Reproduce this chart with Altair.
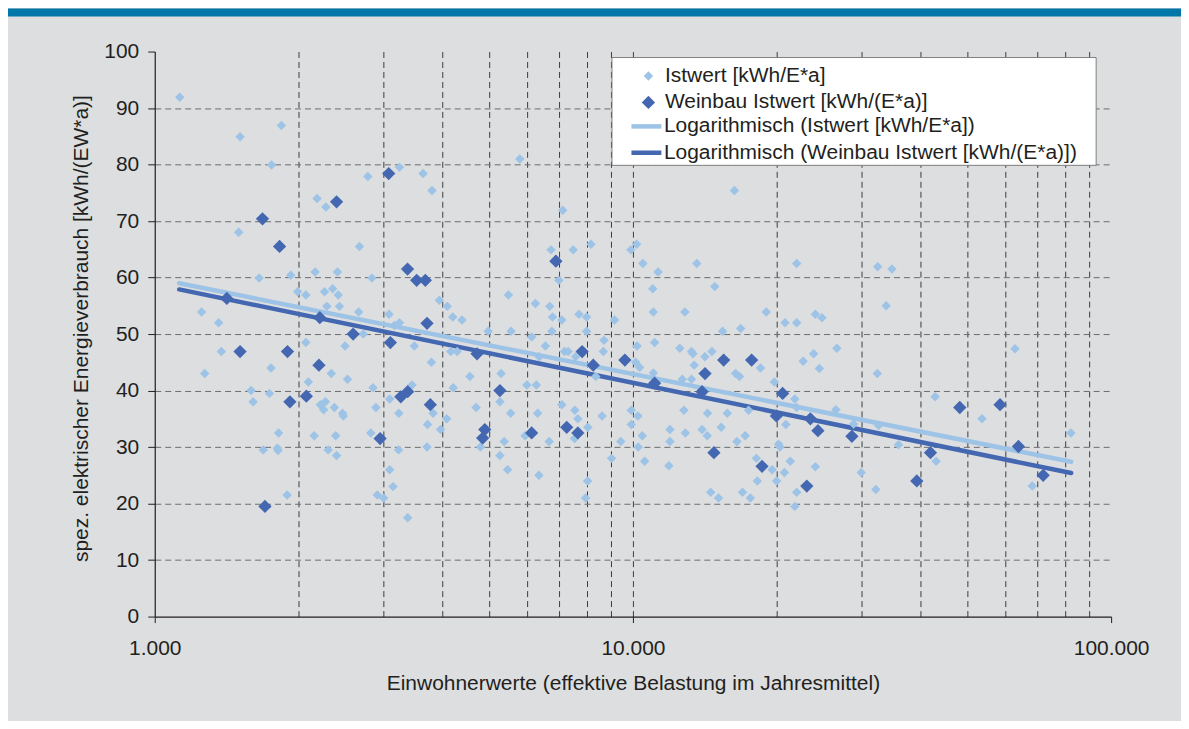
import altair as alt
import pandas as pd

# ---------------- data ----------------
light_ew = [
    1128, 1508, 1840, 1755, 3250, 2790, 3640, 3800, 2185, 2280,
    1498, 2679, 1653, 1925, 2165, 2410, 2845, 1990, 2070, 2265,
    2355, 2420, 2290, 2434, 1253, 1360, 2670, 3090, 3250, 3170,
    3936, 4090, 4200, 4390, 2730, 2070, 1378, 2500, 3490, 3790,
    4160, 4290, 1272, 1750, 2340, 2530, 2095, 2860, 3450, 4560,
    1590, 1737, 1606, 2220, 2275, 2255, 2375, 2470, 2480, 3100,
    2900, 3240, 3820, 4080, 3720, 3960, 4210, 4700, 1815, 2155,
    2390, 2830, 1686, 1805, 1810, 2305, 2400, 3235, 3710, 3100,
    3150, 2920, 3010, 1892, 3380, 5800, 7130, 16300, 6740, 7500,
    8170, 9900, 10180, 10490, 11290, 13600, 7000, 11000, 14830, 5490,
    6250, 6700, 6790, 7100, 7710, 8000, 9150, 11030, 12840, 19000,
    20800, 4980, 5560, 6140, 6770, 8000, 15400, 16800, 22000, 22000,
    6560, 7190, 7320, 7590, 8700, 8670, 8360, 5300, 6000, 6280,
    6370, 10200, 10130, 10330, 11100, 11030, 12530, 13260, 13350, 13430,
    12680, 13260, 14140, 14630, 18480, 16390, 16700, 19760, 21800, 5270,
    5550, 6320, 4800, 5380, 5950, 6680, 7100, 7560, 7670, 7550,
    8050, 8620, 5270, 5470, 6360, 8040, 7960, 9020, 9430, 9920,
    10240, 9920, 10460, 10260, 10580, 11950, 11950, 12870, 11890, 12780,
    14320, 15750, 15300, 13950, 14300, 16500, 17170, 17450, 18120, 18200,
    19550, 20740, 19970, 20170, 20300, 21330, 20880, 14540, 15100, 16950,
    17600, 22000, 21800, 22000, 32500, 34800, 33850, 24070, 24850, 26700,
    23870, 22700, 62950, 24540, 32440, 42850, 53700, 82400, 26570, 28930,
    32640, 35920, 43050, 24070, 30020, 32210, 68400,
]
light_val = [
    91.9, 84.9, 86.9, 79.9, 79.5, 77.9, 78.4, 75.4, 74.0, 72.5,
    68.0, 65.5, 59.9, 60.4, 61.0, 61.0, 59.9, 57.5, 56.9, 57.5,
    58.0, 56.9, 54.9, 54.9, 53.9, 52.0, 53.9, 53.5, 52.0, 51.5,
    56.0, 54.9, 53.0, 52.5, 50.0, 48.5, 46.9, 47.9, 47.9, 45.0,
    46.9, 46.9, 43.0, 44.0, 43.0, 42.0, 41.5, 40.5, 41.0, 42.5,
    40.0, 39.5, 38.0, 37.5, 38.0, 36.6, 37.0, 36.0, 35.5, 38.5,
    37.0, 36.0, 36.0, 35.0, 34.0, 33.1, 40.5, 37.0, 32.5, 32.0,
    32.0, 32.5, 29.5, 29.8, 29.4, 29.5, 28.5, 29.5, 30.0, 26.0,
    23.0, 21.5, 21.0, 21.5, 17.5, 81.0, 71.9, 75.4, 64.9, 64.9,
    65.9, 64.9, 65.9, 62.5, 61.0, 62.5, 59.5, 58.0, 58.4, 56.9,
    55.4, 54.9, 53.0, 52.5, 53.5, 53.0, 52.5, 53.9, 53.9, 53.9,
    52.0, 50.5, 50.5, 49.5, 50.5, 50.5, 50.5, 51.0, 52.0, 62.5,
    47.9, 46.9, 46.9, 46.0, 48.9, 46.9, 42.5, 43.0, 41.0, 41.0,
    46.0, 47.9, 45.0, 44.1, 48.5, 43.1, 47.5, 46.9, 46.5, 44.5,
    42.0, 42.0, 46.0, 46.9, 44.0, 43.0, 42.5, 41.5, 38.5, 38.0,
    36.0, 36.0, 30.0, 31.0, 32.0, 31.0, 37.5, 36.5, 35.0, 31.5,
    33.5, 35.5, 28.5, 26.0, 25.0, 24.0, 21.0, 28.0, 31.0, 36.5,
    35.5, 34.0, 32.0, 30.0, 27.5, 33.1, 31.0, 32.5, 26.7, 36.5,
    36.0, 36.0, 33.5, 33.1, 32.0, 31.0, 32.0, 36.5, 28.0, 24.0,
    26.0, 25.5, 24.0, 30.5, 30.0, 27.5, 34.0, 22.0, 21.0, 22.0,
    21.0, 22.0, 19.5, 37.0, 61.9, 61.5, 55.0, 53.5, 52.9, 47.5,
    46.5, 45.2, 47.4, 43.9, 43.0, 38.9, 35.0, 32.5, 36.6, 34.1,
    33.8, 30.4, 27.5, 26.5, 25.5, 22.5, 23.1,
]
dark_ew = [
    3085, 2400, 1680, 1824, 3378, 3530, 3680, 1415, 2214, 3710,
    2600, 3110, 1508, 1895, 4720, 2205, 1917, 2075, 3270, 3380,
    3770, 2960, 1700, 6900, 7830, 8260, 5270, 9620, 11100, 14150,
    15480, 17710, 13950, 20560, 19950, 4900, 4850, 6140, 7270, 7670,
    14770, 18620, 48250, 58570, 64000, 23500, 24370, 28700, 41900, 23100,
    39230, 72100,
]
dark_val = [
    78.4, 73.4, 70.4, 65.5, 61.5, 59.5, 59.5, 56.3, 52.9, 51.9,
    50.0, 48.5, 46.9, 46.9, 46.5, 44.5, 38.0, 39.0, 38.9, 39.8,
    37.5, 31.5, 19.5, 62.9, 46.9, 44.5, 40.0, 45.4, 41.3, 43.0,
    45.4, 45.4, 39.8, 39.5, 35.5, 33.1, 31.6, 32.5, 33.5, 32.5,
    29.0, 26.6, 37.0, 37.5, 30.1, 35.0, 32.9, 31.9, 29.0, 23.1,
    24.0, 25.0,
]
# logarithmic trend lines (end points as drawn)
trend_ew = [1125, 82500]
trend_light = [59.0, 27.4]
trend_dark = [57.9, 25.4]

series_names = ["Istwert [kWh/E*a]", "Weinbau Istwert [kWh/(E*a)]"]
trend_names = ["Logarithmisch (Istwert [kWh/E*a])",
               "Logarithmisch (Weinbau Istwert [kWh/(E*a)])"]

x_grid_values = [1000, 2000, 3000, 4000, 5000, 6000, 7000, 8000, 9000,
                 10000, 20000, 30000, 40000, 50000, 60000, 70000, 80000, 90000,
                 100000]
x_label_values = [1000, 10000, 100000]
x_label_texts = ["1.000", "10.000", "100.000"]
y_values = [0, 10, 20, 30, 40, 50, 60, 70, 80, 90, 100]

x_title = "Einwohnerwerte (effektive Belastung im Jahresmittel)"
y_title = "spez. elektrischer Energieverbrauch [kWh/(EW*a)]"

# ---------------- styling ----------------
FONT = "Liberation Sans"
TEXT = "#231f20"
BG = "#dcdee0"
BAND = "#0077a8"
LIGHT = "#9dc3e6"
DARK = "#4467b1"
W, H = 958, 566
PAD = {"left": 147, "top": 43, "right": 70, "bottom": 104}

assert len(light_ew) == len(light_val)
assert len(dark_ew) == len(dark_val)

points = pd.DataFrame({
    "ew": light_ew + dark_ew,
    "val": light_val + dark_val,
    "series": [series_names[0]] * len(light_ew) + [series_names[1]] * len(dark_ew),
})
trend = pd.DataFrame({
    "ew": trend_ew + trend_ew,
    "val": trend_light + trend_dark,
    "trend": [trend_names[0]] * 2 + [trend_names[1]] * 2,
})

label_expr = " : ".join(
    f"datum.value == {v} ? '{t}'" for v, t in zip(x_label_values, x_label_texts)
) + " : ''"
major_test = " || ".join(f"datum.value == {v}" for v in x_label_values)

x_scale = alt.Scale(type="log", domain=[1000, 100000], nice=False)
y_scale = alt.Scale(domain=[0, 100], nice=False, zero=False)

x_axis = alt.Axis(
    values=x_grid_values, labelExpr=label_expr, labelFlush=False, labelOverlap=False,
    labelFont=FONT, labelFontSize=21, labelColor=TEXT, labelPadding=15,
    tickSize=6, tickColor=TEXT, tickWidth=1,
    tickOpacity={"condition": {"test": major_test, "value": 1}, "value": 0},
    grid=True, gridColor="#3c3c3c", gridDash=[6, 4], gridWidth=1,
    gridOpacity={"condition": {"test": "datum.value == 1000 || datum.value == 100000",
                               "value": 0}, "value": 1},
    domainColor=TEXT, domainWidth=1.2,
    title=x_title, titleFont=FONT, titleFontSize=21, titleFontWeight="normal",
    titleColor=TEXT, titlePadding=14,
)
y_axis = alt.Axis(
    values=y_values, labelFont=FONT, labelFontSize=21, labelColor=TEXT, labelPadding=9,
    tickSize=7, tickColor=TEXT, tickWidth=1,
    grid=True, gridColor="#6c6c6c", gridDash=[6, 4], gridWidth=1,
    gridOpacity={"condition": {"test": "datum.value == 0 || datum.value == 100",
                               "value": 0}, "value": 1},
    domainColor=TEXT, domainWidth=1.2,
    title=y_title, titleFont=FONT, titleFontSize=21, titleFontWeight="normal",
    titleColor=TEXT, titlePadding=12, titleY=277,
)

X = alt.X("ew:Q", scale=x_scale, axis=x_axis)
Y = alt.Y("val:Q", scale=y_scale, axis=y_axis)

point_legend = alt.Legend(
    orient="none", legendX=484, legendY=14, title=None, symbolType="diamond",
    labelFont=FONT, labelFontSize=21, labelColor=TEXT, labelOffset=6,
    labelLimit=700, rowPadding=4.5, padding=0, symbolStrokeWidth=0,
)
line_legend = alt.Legend(
    orient="none", legendX=475, legendY=64.5, title=None, symbolType="stroke",
    symbolSize=900, symbolStrokeWidth=4.5, clipHeight=21, labelFont=FONT,
    labelFontSize=21, labelColor=TEXT, labelOffset=0, labelLimit=700,
    rowPadding=4.5, padding=0,
)

band = alt.Chart(pd.DataFrame({"band": [0]})).mark_rect(color=BAND).encode(
    x=alt.value(-PAD["left"]), x2=alt.value(W + PAD["right"]),
    y=alt.value(-PAD["top"]), y2=alt.value(-PAD["top"] + 8),
)
legend_box = alt.Chart(pd.DataFrame({"box": [0]})).mark_rect(
    fill="white", stroke="#7f7f7f", strokeWidth=1
).encode(
    x=alt.value(458), x2=alt.value(943), y=alt.value(6), y2=alt.value(114),
)

lines = alt.Chart(trend).mark_line(strokeWidth=4.5, strokeCap="round").encode(
    x=X, y=Y,
    stroke=alt.Stroke("trend:N", scale=alt.Scale(domain=trend_names, range=[LIGHT, DARK]),
                      legend=line_legend),
    detail="trend:N",
)

pts = alt.Chart(points).mark_point(shape="diamond", filled=True, opacity=1,
                                   strokeWidth=0).encode(
    x=X, y=Y,
    fill=alt.Fill("series:N", scale=alt.Scale(domain=series_names, range=[LIGHT, DARK]),
                  legend=point_legend),
    size=alt.Size("series:N", scale=alt.Scale(domain=series_names, range=[90, 177]),
                  legend=point_legend),
    order=alt.Order("order_idx:Q"),
).transform_window(order_idx="row_number()")

chart = alt.layer(band, legend_box, lines, pts).properties(
    width=W, height=H, padding=PAD,
    autosize=alt.AutoSizeParams(type="none"),
    background=BG,
).configure_view(
    fill=BG, stroke="#9b9b9b", strokeWidth=1,
).configure(font=FONT)

chart.save("out.html", embed_options={"renderer": "svg", "actions": False})
